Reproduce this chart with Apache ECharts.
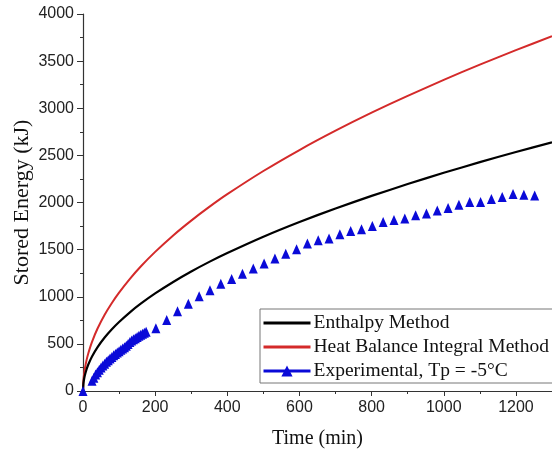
<!DOCTYPE html>
<html>
<head>
<meta charset="utf-8">
<script src="https://cdn.jsdelivr.net/npm/echarts@6.0.0/dist/echarts.min.js"></script>
<style>
html,body{margin:0;padding:0;background:#fff;}
#chart{width:552px;height:454px;}
</style>
</head>
<body>
<div id="chart"></div>
<script>
// ---- data ----
var modelTime = [0,1,2,5,10,15,25,40,60,80,100,130,160,200,250,300,350,400,500,600,700,800,900,1000,1100,1200,1300];
var enthalpyEnergy = [0,73,104,164,231,284,366,463,567,655,732,835,926,1035,1157,1268,1370,1464,1637,1793,1937,2070,2196,2315,2428,2536,2639];
var hbiEnergy = [0,104,148,233,330,404,522,660,809,934,1044,1190,1321,1476,1651,1808,1953,2088,2334,2557,2762,2953,3132,3301,3463,3617,3764];

var expTime = [0,25,30,35,40,45,50,55,60,65,70,75,80,85,90,95,100,105,110,115,120,125,130,135,140,145,150,155,160,165,170,175,
  202,232,262,292,322,352,382,412,442,472,502,532,562,592,622,652,682,712,742,772,802,832,862,892,922,952,982,1012,1042,1072,1102,1132,1162,1192,1222,1252];
var expEnergy = [0,110,140,175,200,225,250,270,290,310,325,345,360,378,392,408,422,438,452,465,480,500,520,535,548,560,572,585,598,608,618,628,
  665,753,847,927,1005,1070,1137,1189,1245,1300,1352,1405,1455,1505,1564,1599,1617,1662,1698,1715,1750,1792,1813,1830,1866,1883,1914,1942,1977,2005,2005,2037,2058,2089,2082,2075];

var seriesNames = ['Enthalpy Method','Heat Balance Integral Method','Experimental, Tp = -5\u00B0C'];
var xTitle = 'Time (min)';
var yTitle = 'Stored Energy (kJ)';

function pairs(xs, ys){ return xs.map(function(x,i){ return [x, ys[i]]; }); }

var chart = echarts.init(document.getElementById('chart'), null, {renderer:'canvas'});
var axisColor = '#333';
var labelFont = {fontFamily:'Liberation Sans, Arial, sans-serif', fontSize:16, color:'#222'};
var serif = 'Liberation Serif, Times New Roman, serif';
function plain(v){ return String(v); }

chart.setOption({
  animation:false,
  backgroundColor:'#fff',
  grid:{left:83, top:14, width:472, height:381},
  legend:{
    orient:'vertical',
    left:260, top:309,
    padding:[2,30,0,2],
    itemGap:0,
    itemWidth:47, itemHeight:14,
    borderColor:'#777', borderWidth:1,
    backgroundColor:'#fff',
    textStyle:{fontFamily:serif, fontSize:19.5, color:'#111', lineHeight:24, padding:[0,0,0,-2]},
    data:[
      {name:seriesNames[0], itemStyle:{opacity:0}, lineStyle:{width:3, color:'#000', opacity:1}},
      {name:seriesNames[1], itemStyle:{opacity:0}, lineStyle:{width:3, color:'#d42a2a', opacity:1}},
      {name:seriesNames[2], lineStyle:{width:3, color:'#0a0ad8', opacity:1}}
    ]
  },
  xAxis:{
    type:'value', min:0, max:1300, interval:200,
    name:xTitle, nameLocation:'middle', nameGap:38, nameMoveOverlap:false,
    nameTextStyle:{fontFamily:serif, fontSize:20, color:'#111'},
    axisLine:{show:true, onZero:false, lineStyle:{color:axisColor, width:1.2}},
    axisTick:{show:true, inside:false, length:5, lineStyle:{color:axisColor}},
    minorTick:{show:true, splitNumber:2, length:3, lineStyle:{color:axisColor}},
    axisLabel:{margin:9, showMaxLabel:false, formatter:plain, ...labelFont},
    splitLine:{show:false}
  },
  yAxis:{
    type:'value', min:0, max:4000, interval:500,
    name:yTitle, nameLocation:'middle', nameGap:50, nameRotate:90, nameMoveOverlap:false,
    nameTextStyle:{fontFamily:serif, fontSize:22, color:'#111'},
    axisLine:{show:true, onZero:false, lineStyle:{color:axisColor, width:1.2}},
    axisTick:{show:true, inside:false, length:6, lineStyle:{color:axisColor}},
    minorTick:{show:true, splitNumber:2, length:3, lineStyle:{color:axisColor}},
    axisLabel:{margin:9, formatter:plain, ...labelFont},
    splitLine:{show:false}
  },
  series:[
    {name:seriesNames[0], type:'line', data:pairs(modelTime, enthalpyEnergy), smooth:0.2,
     showSymbol:false, symbol:'none', lineStyle:{color:'#000', width:2.2}, itemStyle:{color:'#000'}, z:3},
    {name:seriesNames[1], type:'line', data:pairs(modelTime, hbiEnergy), smooth:0.2,
     showSymbol:false, symbol:'none', lineStyle:{color:'#d42a2a', width:2}, itemStyle:{color:'#d42a2a'}, z:2},
    {name:seriesNames[2], type:'line', data:pairs(expTime, expEnergy),
     symbol:'triangle', symbolSize:[9,10], showSymbol:true, showAllSymbol:true,
     lineStyle:{width:0, opacity:0, color:'#0a0ad8'}, itemStyle:{color:'#0a0ad8'}, z:4}
  ]
});
</script>
</body>
</html>
